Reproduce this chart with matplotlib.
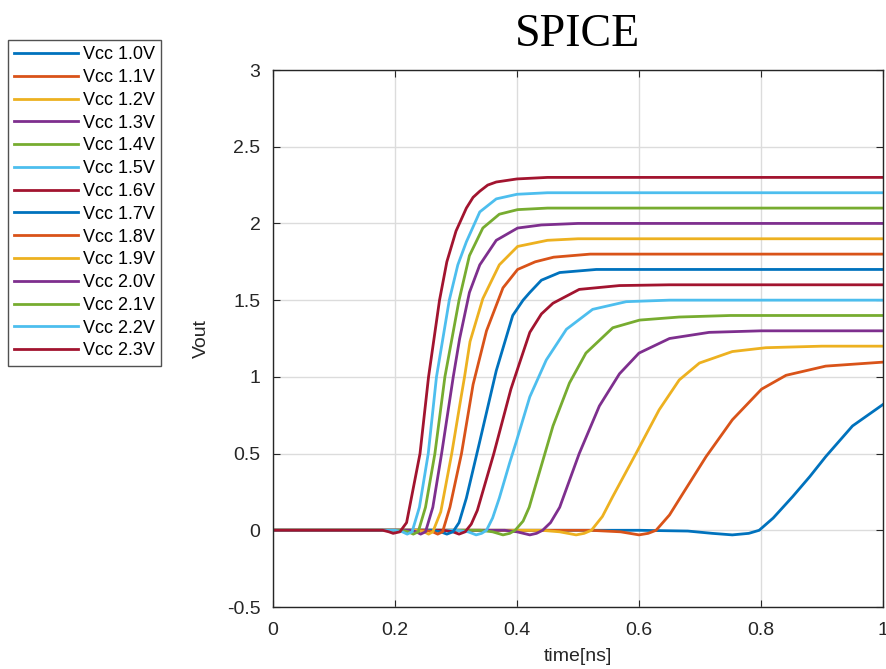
#!/usr/bin/env python3
"""
SPICE output-voltage traces for a sweep of supply voltages (Vcc 1.0V .. 2.3V).

Writes: out.png
"""

import matplotlib
matplotlib.use("Agg")
import matplotlib.pyplot as plt
from matplotlib.ticker import FuncFormatter

# ---- data (time in ns, Vout in V) ----
labels = ["Vcc 1.0V", "Vcc 1.1V", "Vcc 1.2V", "Vcc 1.3V", "Vcc 1.4V",
          "Vcc 1.5V", "Vcc 1.6V", "Vcc 1.7V", "Vcc 1.8V", "Vcc 1.9V",
          "Vcc 2.0V", "Vcc 2.1V", "Vcc 2.2V", "Vcc 2.3V"]

t_10 = [0, 0.60, 0.68, 0.72, 0.753, 0.78, 0.797, 0.82, 0.852, 0.88, 0.906, 0.95, 1.0]
v_10 = [0, 0, -0.005, -0.02, -0.03, -0.02, 0.0, 0.08, 0.22, 0.35, 0.48, 0.68, 0.82]

t_11 = [0, 0.52, 0.57, 0.60, 0.615, 0.628, 0.65, 0.672, 0.71, 0.753, 0.801, 0.841, 0.906, 1.0]
v_11 = [0, 0, -0.01, -0.03, -0.02, 0.0, 0.10, 0.24, 0.48, 0.72, 0.92, 1.01, 1.07, 1.096]

t_12 = [0, 0.44, 0.47, 0.497, 0.51, 0.522, 0.54, 0.557, 0.595, 0.633, 0.666, 0.699, 0.753, 0.808, 0.9, 1.0]
v_12 = [0, 0, -0.01, -0.03, -0.02, 0.0, 0.09, 0.22, 0.50, 0.785, 0.98, 1.09, 1.165, 1.19, 1.2, 1.2]

t_13 = [0, 0.38, 0.40, 0.421, 0.432, 0.442, 0.455, 0.47, 0.502, 0.535, 0.568, 0.60, 0.65, 0.715, 0.8, 1.0]
v_13 = [0, 0, -0.01, -0.03, -0.02, 0.0, 0.05, 0.15, 0.50, 0.81, 1.02, 1.155, 1.25, 1.29, 1.3, 1.3]

t_14 = [0, 0.34, 0.36, 0.377, 0.388, 0.397, 0.41, 0.42, 0.431, 0.459, 0.486, 0.513, 0.557, 0.601, 0.666, 0.75, 1.0]
v_14 = [0, 0, -0.01, -0.03, -0.02, 0.0, 0.06, 0.15, 0.30, 0.68, 0.96, 1.155, 1.32, 1.37, 1.39, 1.4, 1.4]

t_15 = [0, 0.30, 0.32, 0.333, 0.342, 0.35, 0.36, 0.371, 0.388, 0.399, 0.421, 0.448, 0.481, 0.524, 0.579, 0.65, 1.0]
v_15 = [0, 0, -0.01, -0.03, -0.02, 0.0, 0.08, 0.21, 0.44, 0.58, 0.87, 1.11, 1.31, 1.44, 1.49, 1.5, 1.5]

t_16 = [0, 0.28, 0.295, 0.305, 0.315, 0.325, 0.335, 0.362, 0.39, 0.405, 0.421, 0.44, 0.459, 0.502, 0.568, 0.65, 1.0]
v_16 = [0, 0, -0.01, -0.025, -0.01, 0.04, 0.13, 0.50, 0.92, 1.10, 1.29, 1.41, 1.48, 1.57, 1.595, 1.6, 1.6]

t_17 = [0, 0.26, 0.275, 0.285, 0.295, 0.305, 0.317, 0.339, 0.366, 0.393, 0.41, 0.421, 0.44, 0.47, 0.53, 1.0]
v_17 = [0, 0, -0.01, -0.025, -0.01, 0.05, 0.21, 0.58, 1.04, 1.40, 1.50, 1.55, 1.63, 1.68, 1.70, 1.70]

t_18 = [0, 0.25, 0.262, 0.27, 0.278, 0.29, 0.309, 0.328, 0.35, 0.377, 0.401, 0.43, 0.46, 0.52, 1.0]
v_18 = [0, 0, -0.01, -0.025, -0.01, 0.15, 0.50, 0.95, 1.30, 1.58, 1.70, 1.75, 1.78, 1.80, 1.80]

t_19 = [0, 0.235, 0.248, 0.255, 0.262, 0.275, 0.293, 0.308, 0.314, 0.323, 0.344, 0.371, 0.401, 0.45, 0.5, 1.0]
v_19 = [0, 0, -0.01, -0.025, -0.01, 0.12, 0.50, 0.86, 1.0, 1.23, 1.51, 1.73, 1.85, 1.89, 1.9, 1.9]

t_20 = [0, 0.225, 0.235, 0.242, 0.25, 0.262, 0.2764, 0.2955, 0.306, 0.322, 0.339, 0.366, 0.401, 0.44, 0.5, 1.0]
v_20 = [0, 0, -0.01, -0.025, -0.01, 0.15, 0.50, 1.0, 1.25, 1.55, 1.73, 1.89, 1.97, 1.99, 2.0, 2.0]

t_21 = [0, 0.21, 0.222, 0.23, 0.238, 0.25, 0.2654, 0.2818, 0.305, 0.322, 0.344, 0.371, 0.401, 0.45, 1.0]
v_21 = [0, 0, -0.01, -0.025, -0.01, 0.15, 0.50, 1.0, 1.5, 1.79, 1.97, 2.06, 2.09, 2.10, 2.10]

t_22 = [0, 0.20, 0.212, 0.22, 0.228, 0.24, 0.2545, 0.268, 0.289, 0.303, 0.317, 0.339, 0.366, 0.40, 0.45, 1.0]
v_22 = [0, 0, -0.01, -0.025, -0.01, 0.15, 0.50, 1.0, 1.5, 1.73, 1.88, 2.075, 2.16, 2.19, 2.20, 2.20]

t_23 = [0, 0.18, 0.19, 0.197, 0.208, 0.219, 0.241, 0.255, 0.273, 0.285, 0.30, 0.317, 0.328, 0.339, 0.352, 0.366, 0.40, 0.45, 1.0]
v_23 = [0, 0, -0.01, -0.02, -0.01, 0.05, 0.50, 1.0, 1.5, 1.75, 1.95, 2.10, 2.17, 2.21, 2.25, 2.27, 2.29, 2.30, 2.30]

x_ticks = [0, 0.2, 0.4, 0.6, 0.8, 1.0]
y_ticks = [-0.5, 0, 0.5, 1.0, 1.5, 2.0, 2.5, 3.0]

# MATLAB default line colours, cycled
colors = ["#0072BD", "#D95319", "#EDB120", "#7E2F8E", "#77AC30", "#4DBEEE", "#A2142F"]


def main():
    curves = [(t_10, v_10), (t_11, v_11), (t_12, v_12), (t_13, v_13), (t_14, v_14),
              (t_15, v_15), (t_16, v_16), (t_17, v_17), (t_18, v_18), (t_19, v_19),
              (t_20, v_20), (t_21, v_21), (t_22, v_22), (t_23, v_23)]

    plt.rcParams["font.family"] = "Liberation Sans"
    plt.rcParams["axes.unicode_minus"] = False

    fig = plt.figure(figsize=(8.87, 6.69), dpi=100)
    ax = fig.add_axes([273 / 887, 1 - 607 / 669, 610 / 887, 537 / 669])

    handles = []
    for i, (t, v) in enumerate(curves):
        h, = ax.plot(t, v, color=colors[i % len(colors)], lw=2.0, label=labels[i])
        handles.append(h)

    ax.set_xlim(0, 1)
    ax.set_ylim(-0.5, 3)
    ax.set_xticks(x_ticks)
    ax.set_yticks(y_ticks)
    fmt = FuncFormatter(lambda val, _: f"{val:g}")
    ax.xaxis.set_major_formatter(fmt)
    ax.yaxis.set_major_formatter(fmt)

    ax.grid(True, color="#dcdcdc", lw=1.0)
    ax.set_axisbelow(True)
    ax.tick_params(direction="in", top=True, right=True, length=5,
                   labelsize=14, colors="#262626")
    ax.tick_params(axis="x", pad=11)
    ax.tick_params(axis="y", pad=9)
    for s in ax.spines.values():
        s.set_color("#262626")
        s.set_linewidth(1.0)

    ax.set_xlabel("time[ns]", fontsize=14, color="#262626", labelpad=6)
    ax.set_ylabel("Vout", fontsize=14, color="#262626", labelpad=12)
    ax.set_title("SPICE", fontsize=33, family="Liberation Serif", pad=17)

    leg = fig.legend(handles, labels, loc="upper left",
                     bbox_to_anchor=(8 / 887, 1 - 40 / 669), fontsize=13,
                     handlelength=3.5, handletextpad=0.3, labelspacing=0.32,
                     borderpad=0.35, borderaxespad=0, fancybox=False)
    leg.get_frame().set_edgecolor("#262626")
    leg.get_frame().set_linewidth(1.0)

    fig.savefig("out.png", dpi=100)
    plt.close(fig)
    print("Wrote out.png")


if __name__ == "__main__":
    main()
